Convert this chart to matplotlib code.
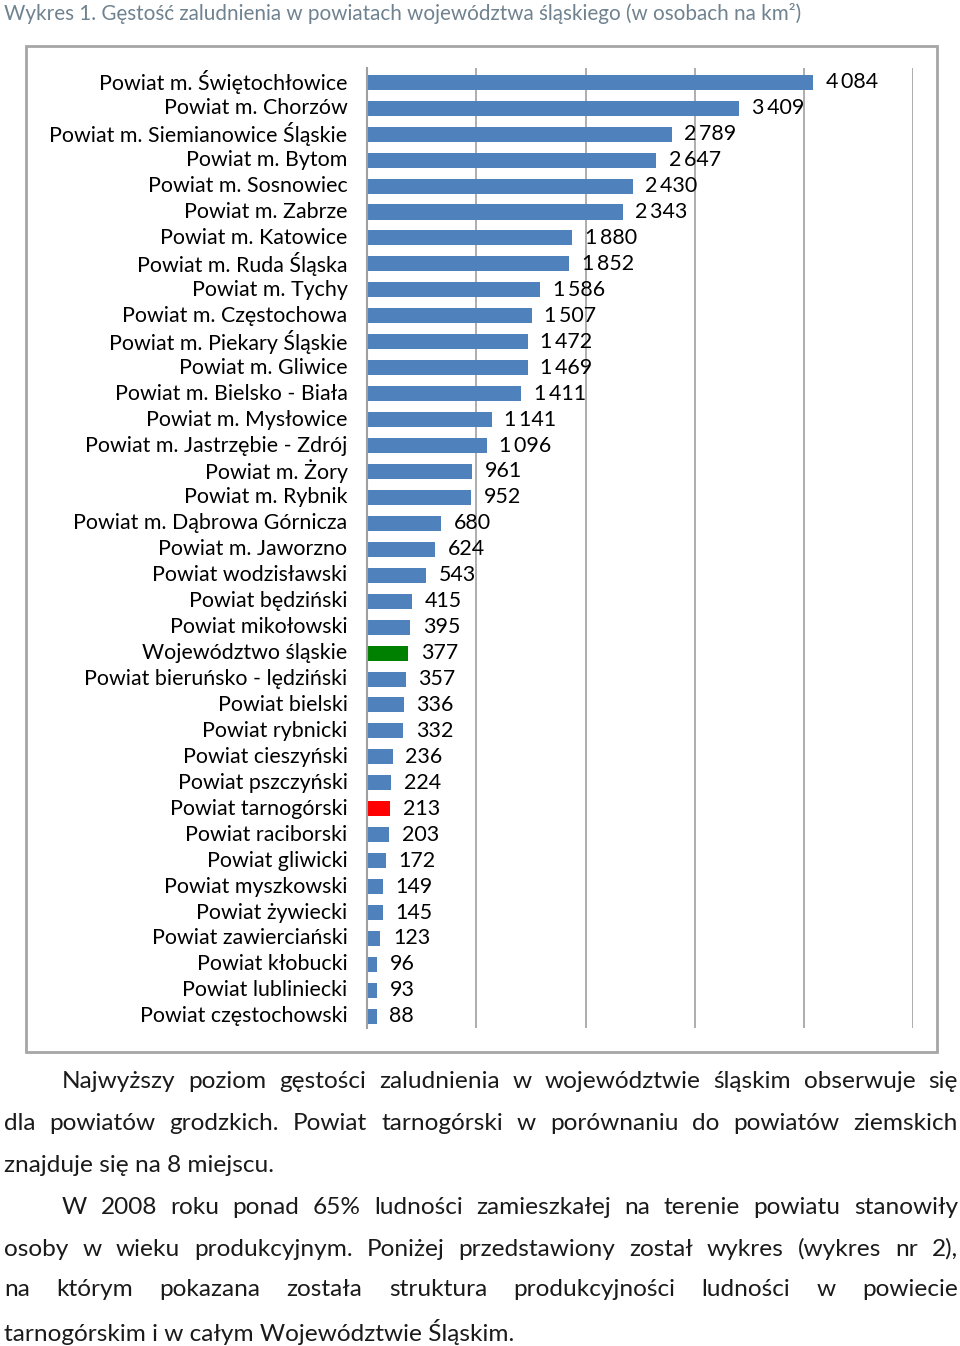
import matplotlib
matplotlib.use("Agg")
import matplotlib.pyplot as plt
from matplotlib.patches import Rectangle

categories = [
    "Powiat m. Świętochłowice", "Powiat m. Chorzów", "Powiat m. Siemianowice Śląskie",
    "Powiat m. Bytom", "Powiat m. Sosnowiec", "Powiat m. Zabrze", "Powiat m. Katowice",
    "Powiat m. Ruda Śląska", "Powiat m. Tychy", "Powiat m. Częstochowa",
    "Powiat m. Piekary Śląskie", "Powiat m. Gliwice", "Powiat m. Bielsko - Biała",
    "Powiat m. Mysłowice", "Powiat m. Jastrzębie - Zdrój", "Powiat m. Żory",
    "Powiat m. Rybnik", "Powiat m. Dąbrowa Górnicza", "Powiat m. Jaworzno",
    "Powiat wodzisławski", "Powiat będziński", "Powiat mikołowski",
    "Województwo śląskie", "Powiat bieruńsko - lędziński", "Powiat bielski",
    "Powiat rybnicki", "Powiat cieszyński", "Powiat pszczyński",
    "Powiat tarnogórski", "Powiat raciborski", "Powiat gliwicki",
    "Powiat myszkowski", "Powiat żywiecki", "Powiat zawierciański",
    "Powiat kłobucki", "Powiat lubliniecki", "Powiat częstochowski",
]
values = [4084, 3409, 2789, 2647, 2430, 2343, 1880, 1852, 1586, 1507, 1472, 1469,
          1411, 1141, 1096, 961, 952, 680, 624, 543, 415, 395, 377, 357, 336, 332,
          236, 224, 213, 203, 172, 149, 145, 123, 96, 93, 88]
highlight = {"Województwo śląskie": "#008000", "Powiat tarnogórski": "#FF0000"}
x_ticks = [0, 1000, 2000, 3000, 4000, 5000]

title = "Wykres 1. Gęstość zaludnienia w powiatach województwa śląskiego (w osobach na km²)"
para_lines = [
    ["Najwyższy poziom gęstości zaludnienia w województwie śląskim obserwuje się",
     "dla powiatów grodzkich.  Powiat tarnogórski w porównaniu do powiatów ziemskich",
     "znajduje się na 8 miejscu."],
    ["W 2008 roku ponad 65% ludności zamieszkałej na terenie powiatu stanowiły",
     "osoby w wieku produkcyjnym. Poniżej przedstawiony został wykres (wykres nr 2),",
     "na którym pokazana została struktura produkcyjności ludności w powiecie",
     "tarnogórskim i w całym Województwie Śląskim."],
]

W, H = 960, 1346
fig = plt.figure(figsize=(W / 100, H / 100), dpi=100)
fam = ["Lato", "DejaVu Sans"]

def fx(px):
    return px / W

def fy(py):
    return 1 - py / H

# Title
fig.text(fx(4), fy(14), title, fontsize=14.9, color="#6f8290", family=fam,
         va="center", ha="left")

# Chart box
fig.patches.append(Rectangle((fx(26), fy(1052)), fx(911), 1006 / H,
                             transform=fig.transFigure, fill=False,
                             edgecolor="#a6a6a6", linewidth=2))

ax = fig.add_axes([fx(367), fy(1028), fx(913.3 - 367), (1028 - 68) / H])
n = len(categories)
colors = [highlight.get(c, "#4F81BD") for c in categories]
ypos = list(range(n))
ax.barh(ypos, values, height=0.58, color=colors, zorder=3)
ax.set_xlim(0, 5000)
ax.set_ylim(n - 1 + 0.45, -0.55)
ax.set_xticks(x_ticks)
ax.tick_params(axis="x", bottom=False, labelbottom=False)
ax.grid(axis="x", color="#a0a0a0", linewidth=1.2, zorder=0)
ax.set_yticks(ypos)
ax.set_yticklabels(categories, fontsize=15.4, family=fam, va="center")
ax.tick_params(axis="y", length=0, pad=14)
for s in ["top", "right", "bottom"]:
    ax.spines[s].set_visible(False)
ax.spines["left"].set_color("#a0a0a0")
ax.spines["left"].set_linewidth(1.5)
ax.spines["left"].set_zorder(4)

for y, v in zip(ypos, values):
    lbl = f"{v:,}".replace(",", "\u2009")
    ax.annotate(lbl, (v, y), xytext=(9, 0), textcoords="offset points",
                va="center", ha="left", fontsize=15.4, family=fam)

# Paragraph text (justified)
renderer = fig.canvas.get_renderer()
pfs = 17.6
line_y = [1082, 1124, 1165, 1207, 1249, 1290, 1332]
left, right, indent = 4, 958, 62
li = 0
for para in para_lines:
    for j, line in enumerate(para):
        x0 = indent if j == 0 else left
        y = fy(line_y[li])
        li += 1
        last = j == len(para) - 1
        if last:
            fig.text(fx(x0), y, line, fontsize=pfs, family=fam,
                     va="center", ha="left", color="#1a1a1a")
            continue
        words = line.split()
        texts = [fig.text(0, y, w_, fontsize=pfs, family=fam,
                          va="center", ha="left", color="#1a1a1a") for w_ in words]
        widths = [t.get_window_extent(renderer).width for t in texts]
        gap = (right - x0 - sum(widths)) / (len(words) - 1)
        x = x0
        for t, wd in zip(texts, widths):
            t.set_x(fx(x))
            x += wd + gap

fig.savefig("out.png", dpi=100)
